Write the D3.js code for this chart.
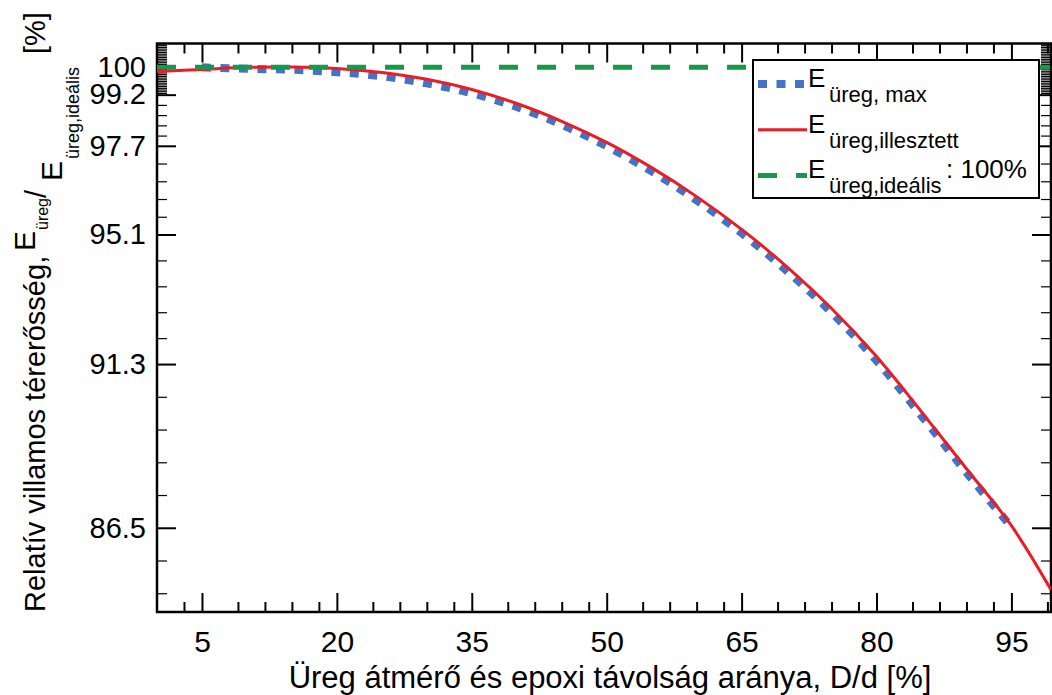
<!DOCTYPE html>
<html>
<head>
<meta charset="utf-8">
<script src="https://cdn.jsdelivr.net/npm/d3@7"></script>
<style>
  body { margin: 0; background: #fff; }
  svg { display: block; font-family: "Liberation Sans", Arial, sans-serif; }
</style>
</head>
<body>
<svg id="chart" width="1052" height="695"></svg>
<script>
// D/d ratio [%] and relative field strength [%]
const fitRatio = [0, 5, 10, 15, 20, 25, 30, 35, 40, 45, 50, 55, 60, 65, 70, 75, 80, 85, 90, 95, 99.4];
const fitValues = [99.88, 99.94, 100.0, 100.01, 99.97, 99.85, 99.65, 99.35, 98.94, 98.42, 97.8,
                   97.06, 96.21, 95.25, 94.16, 92.93, 91.52, 89.9, 88.23, 86.56, 84.68];
const maxRatio = [5, 10, 15, 20, 25, 30, 35, 40, 45, 50, 55, 60, 65, 70, 75, 80, 85, 90, 95];
const maxValues = [100.0, 99.96, 99.93, 99.86, 99.74, 99.53, 99.24, 98.84, 98.32, 97.69,
                   96.95, 96.1, 95.14, 94.04, 92.81, 91.4, 89.78, 88.12, 86.52];
const idealRatio = [0, 99.4];
const idealValues = [100, 100];

const xTicks = [5, 20, 35, 50, 65, 80, 95];
const yTicks = [100, 99.2, 97.7, 95.1, 91.3, 86.5];

const mLeft = 157, mRight = 1051, mTop = 43.5, mBottom = 612;

const svg = d3.select("#chart");

const x = d3.scaleLinear().domain([0, 99.4]).range([mLeft, mRight]);
const y = d3.scaleLinear().domain([84.03, 100.7]).range([mBottom, mTop]);

// minor ticks
const xMinor = d3.range(3, 100, 3).filter(v => xTicks.every(t => Math.abs(t - v) > 1));

const ySorted = yTicks.slice().sort((a, b) => a - b);
let yMinor = [];
for (let i = 0; i < ySorted.length - 2; i++) {
    const a = ySorted[i], s = (ySorted[i + 1] - a) / 5;
    for (let k = 1; k < 5; k++) yMinor.push(a + k * s);
}
const s0 = (ySorted[1] - ySorted[0]) / 5;
for (let v = ySorted[0] - s0; v > y.domain()[0]; v -= s0) yMinor.push(v);
for (let v = ySorted[ySorted.length - 2] + 0.05; v < y.domain()[1]; v += 0.05) {
    if (Math.abs(v - 100) > 0.02) yMinor.push(v);
}

function styleAxis(g, fontSize) {
    g.select(".domain").remove();
    g.selectAll(".tick line").attr("stroke", "#000").attr("stroke-width", 2);
    g.selectAll(".tick text")
        .attr("fill", "#000")
        .style("font-size", fontSize + "px")
        .style("font-family", '"Liberation Sans", Arial, sans-serif');
}

// bottom
svg.append("g")
    .attr("transform", `translate(0,${mBottom})`)
    .call(d3.axisBottom(x).tickValues(xMinor).tickSize(-10).tickFormat(""))
    .call(g => styleAxis(g, 30));
svg.append("g")
    .attr("transform", `translate(0,${mBottom})`)
    .call(d3.axisBottom(x).tickValues(xTicks).tickSize(-19).tickPadding(19).tickFormat(d3.format("d")))
    .call(g => styleAxis(g, 30));

// top
svg.append("g")
    .attr("transform", `translate(0,${mTop})`)
    .call(d3.axisTop(x).tickValues(xMinor).tickSize(-10).tickFormat(""))
    .call(g => styleAxis(g, 30));
svg.append("g")
    .attr("transform", `translate(0,${mTop})`)
    .call(d3.axisTop(x).tickValues(xTicks).tickSize(-19).tickFormat(""))
    .call(g => styleAxis(g, 30));

// left
svg.append("g")
    .attr("transform", `translate(${mLeft},0)`)
    .call(d3.axisLeft(y).tickValues(yMinor).tickSize(-10).tickFormat(""))
    .call(g => styleAxis(g, 30))
    .call(g => g.selectAll(".tick line").attr("stroke-width", 1.2));
svg.append("g")
    .attr("transform", `translate(${mLeft},0)`)
    .call(d3.axisLeft(y).tickValues(yTicks).tickSize(-19).tickPadding(11).tickFormat(d => d))
    .call(g => styleAxis(g, 29));

// right
svg.append("g")
    .attr("transform", `translate(${mRight},0)`)
    .call(d3.axisRight(y).tickValues(yMinor).tickSize(-10).tickFormat(""))
    .call(g => styleAxis(g, 30))
    .call(g => g.selectAll(".tick line").attr("stroke-width", 1.2));
svg.append("g")
    .attr("transform", `translate(${mRight},0)`)
    .call(d3.axisRight(y).tickValues(yTicks).tickSize(-19).tickFormat(""))
    .call(g => styleAxis(g, 30));

// frame
svg.append("rect")
    .attr("x", mLeft)
    .attr("y", mTop)
    .attr("width", mRight - mLeft)
    .attr("height", mBottom - mTop)
    .attr("fill", "none")
    .attr("stroke", "#000")
    .attr("stroke-width", 2.5);

svg.append("clipPath")
    .attr("id", "plot-clip")
    .append("rect")
    .attr("x", mLeft)
    .attr("y", mTop)
    .attr("width", mRight - mLeft)
    .attr("height", mBottom - mTop);

const plot = svg.append("g").attr("clip-path", "url(#plot-clip)");

const line = d3.line()
    .curve(d3.curveCatmullRom)
    .x(d => x(d[0]))
    .y(d => y(d[1]));

plot.append("path")
    .datum(d3.zip(maxRatio, maxValues))
    .attr("fill", "none")
    .attr("stroke", "#4472c4")
    .attr("stroke-width", 8)
    .attr("stroke-dasharray", "9,9.5")
    .attr("d", line);

plot.append("path")
    .datum(d3.zip(fitRatio, fitValues))
    .attr("fill", "none")
    .attr("stroke", "#ed1c24")
    .attr("stroke-width", 3)
    .attr("d", line);

plot.append("path")
    .datum(d3.zip(idealRatio, idealValues))
    .attr("fill", "none")
    .attr("stroke", "#149a4a")
    .attr("stroke-width", 5)
    .attr("stroke-dasharray", "19,19")
    .attr("d", line);

// legend
const legend = svg.append("g");
legend.append("rect")
    .attr("x", 753)
    .attr("y", 60)
    .attr("width", 286)
    .attr("height", 138)
    .attr("fill", "#fff")
    .attr("stroke", "#000")
    .attr("stroke-width", 2);

const items = [
    {sub: "üreg, max", color: "#4472c4", width: 8, dash: "9,9.5", tail: ""},
    {sub: "üreg,illesztett", color: "#ed1c24", width: 3, dash: null, tail: ""},
    {sub: "üreg,ideális", color: "#149a4a", width: 5, dash: "19,19", tail: ": 100%"}
];

items.forEach((it, i) => {
    const base = 87 + i * 45.7;
    legend.append("line")
        .attr("x1", 758)
        .attr("x2", 807)
        .attr("y1", base - 3)
        .attr("y2", base - 3)
        .attr("stroke", it.color)
        .attr("stroke-width", it.width)
        .attr("stroke-dasharray", it.dash);
    legend.append("text")
        .attr("x", 808)
        .attr("y", base)
        .style("font-size", "26px")
        .text("E");
    legend.append("text")
        .attr("x", 829)
        .attr("y", base + 15)
        .style("font-size", "22px")
        .text(it.sub);
    if (it.tail) {
        legend.append("text")
            .attr("x", 946)
            .attr("y", base)
            .style("font-size", "26px")
            .text(it.tail);
    }
});

// axis titles
svg.append("text")
    .attr("x", 610)
    .attr("y", 688)
    .attr("text-anchor", "middle")
    .style("font-size", "31px")
    .text("Üreg átmérő és epoxi távolság aránya, D/d [%]");

const ylab = svg.append("text")
    .attr("transform", "rotate(-90)")
    .style("font-size", "29px");
ylab.append("tspan").attr("x", -612).attr("y", 45).text("Relatív villamos térerősség,");
ylab.append("tspan").attr("x", -251).attr("y", 35).style("font-size", "30px").text("E");
ylab.append("tspan").attr("x", -230).attr("y", 48).style("font-size", "16px").text("üreg");
ylab.append("tspan").attr("x", -198).attr("y", 46).text("/");
ylab.append("tspan").attr("x", -181).attr("y", 62).style("font-size", "30px").text("E");
ylab.append("tspan").attr("x", -159).attr("y", 79).style("font-size", "18px").text("üreg,ideális");
ylab.append("tspan").attr("x", -54).attr("y", 45).text("[%]");
</script>
</body>
</html>
